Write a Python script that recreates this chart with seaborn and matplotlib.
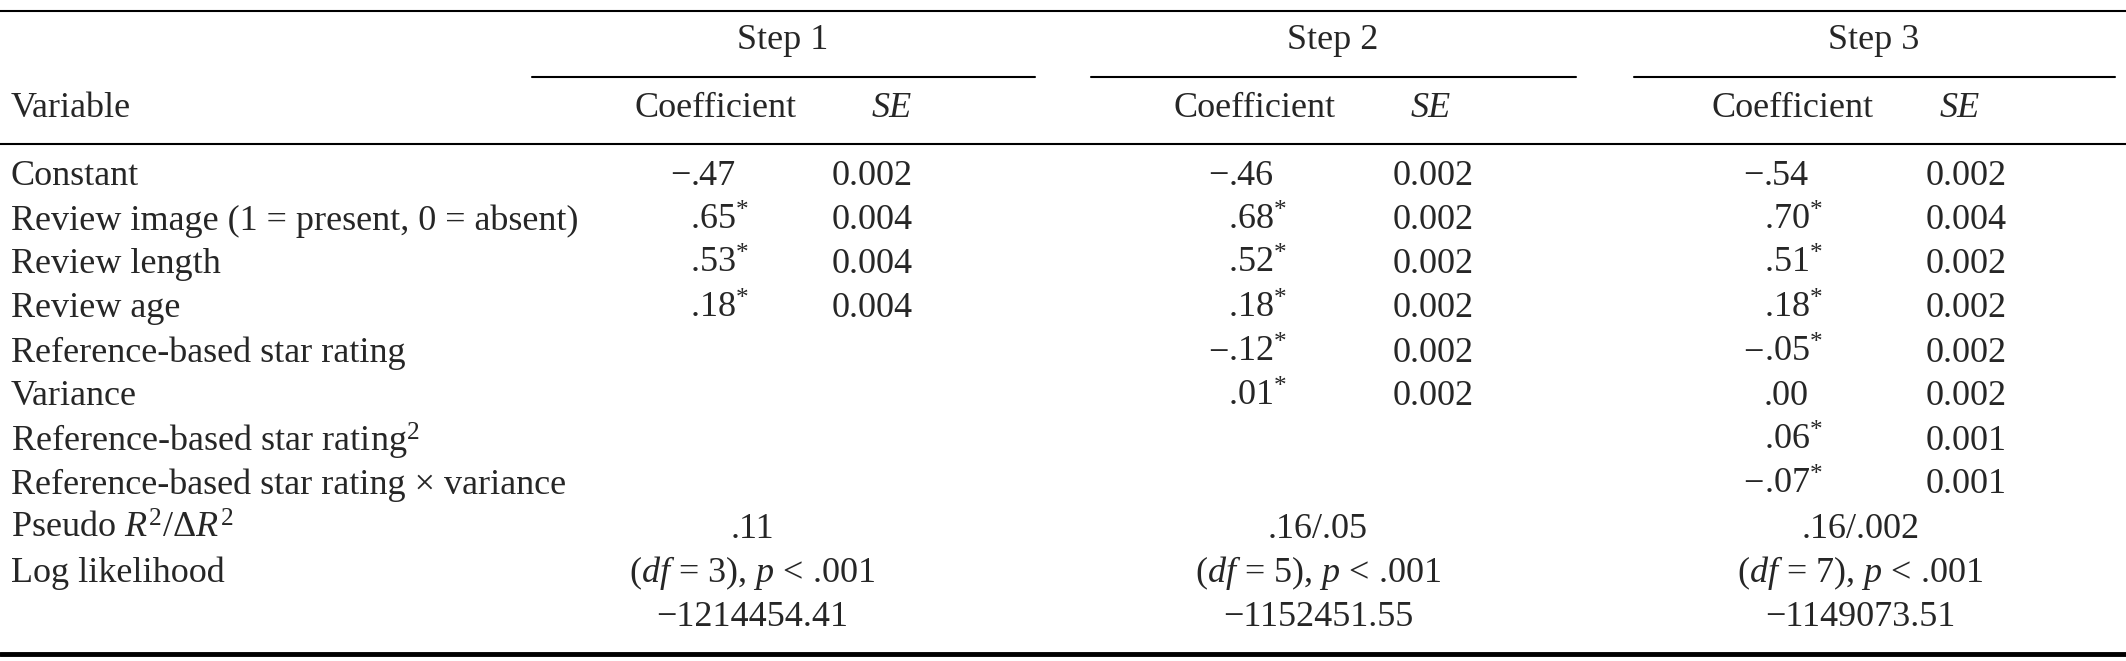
import matplotlib
matplotlib.use("Agg")
import matplotlib.pyplot as plt
import seaborn as sns

sns.set_theme(style="white")
plt.rcParams['font.family'] = ['Liberation Serif', 'DejaVu Serif']
plt.rcParams['mathtext.fontset'] = 'custom'
plt.rcParams['mathtext.rm'] = 'Liberation Serif'
plt.rcParams['mathtext.it'] = 'Liberation Serif:italic'

# table data
variables = ["Constant", "Review image (1 = present, 0 = absent)", "Review length", "Review age",
             "Reference-based star rating", "Variance", "Reference-based star rating$^2$",
             "Reference-based star rating × variance"]
step_names = ["Step 1", "Step 2", "Step 3"]
coef_step1 = ["−.47", ".65*", ".53*", ".18*", "", "", "", ""]
se_step1 = ["0.002", "0.004", "0.004", "0.004", "", "", "", ""]
coef_step2 = ["−.46", ".68*", ".52*", ".18*", "−.12*", ".01*", "", ""]
se_step2 = ["0.002", "0.002", "0.002", "0.002", "0.002", "0.002", "", ""]
coef_step3 = ["−.54", ".70*", ".51*", ".18*", "−.05*", ".00", ".06*", "−.07*"]
se_step3 = ["0.002", "0.004", "0.002", "0.002", "0.002", "0.002", "0.001", "0.001"]
pseudo_r2 = [".11", ".16/.05", ".16/.002"]
df_text = ["($\\mathit{df}$ = 3), $\\mathit{p}$ < .001", "($\\mathit{df}$ = 5), $\\mathit{p}$ < .001",
           "($\\mathit{df}$ = 7), $\\mathit{p}$ < .001"]
log_lik = ["−1214454.41", "−1152451.55", "−1149073.51"]

W, H = 1568, 488
fig = plt.figure(figsize=(21.26, 6.61), dpi=100)
ax = fig.add_axes([0, 0, 1, 1])
ax.set_xlim(0, W)
ax.set_ylim(H, 0)
ax.axis("off")
fs = 26

def txt(x, y, s, ha="left", **kw):
    ax.text(x, y, s, ha=ha, va="center", fontsize=fs, **kw)

ax.plot([0, W], [8, 8], color="black", lw=1.5)
ax.plot([0, W], [106, 106], color="black", lw=1.5)
ax.plot([0, W], [483, 483], color="black", lw=3.5)

step_center = [577, 983, 1382]
spans = [(392, 763), (805, 1162), (1205, 1560)]
coef_hdr = [528, 925, 1322]
se_hdr = [658, 1055, 1445]
dec_x = [509, 906, 1301]
se_x = [613, 1027, 1420]
mid = [555, 972, 1372]

txt(8, 80, "Variable")
for i in range(3):
    txt(step_center[i], 30, step_names[i], ha="center")
    ax.plot(spans[i], [57, 57], color="black", lw=1.5)
    txt(coef_hdr[i], 80, "Coefficient", ha="center")
    txt(se_hdr[i], 80, "SE", ha="center", style="italic")

row_y = [130, 163, 195, 228, 261, 293, 326, 358]
for r, v in enumerate(variables):
    txt(8, row_y[r], v)
for i, (coefs, ses) in enumerate([(coef_step1, se_step1), (coef_step2, se_step2), (coef_step3, se_step3)]):
    for r in range(len(variables)):
        c = coefs[r]
        if not c:
            continue
        star = c.endswith("*")
        c = c.rstrip("*")
        intpart, frac = c.split(".")
        if intpart:
            txt(dec_x[i], row_y[r], intpart, ha="right")
        txt(dec_x[i], row_y[r], "." + frac + ("$^{*}$" if star else ""))
        txt(se_x[i], row_y[r], ses[r])

txt(8, 391, "Pseudo $\\mathit{R}^2$/Δ$\\mathit{R}^2$")
txt(8, 423, "Log likelihood")
for i in range(3):
    txt(mid[i], 391, pseudo_r2[i], ha="center")
    txt(mid[i], 423, df_text[i], ha="center")
    txt(mid[i], 456, log_lik[i], ha="center")

fig.savefig("out.png", dpi=100)
